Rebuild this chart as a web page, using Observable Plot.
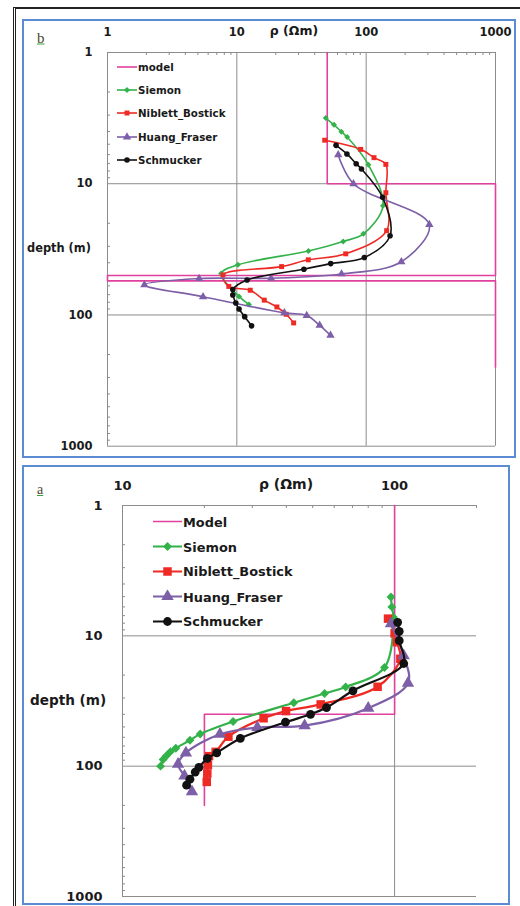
<!DOCTYPE html>
<html>
<head>
<meta charset="utf-8">
<script src="https://cdn.jsdelivr.net/npm/d3@7"></script>
<script src="https://cdn.jsdelivr.net/npm/@observablehq/plot@0.6"></script>
<style>
  html, body { margin: 0; padding: 0; background: #fff; }
  body { width: 520px; height: 906px; position: relative; overflow: hidden; font-family: "DejaVu Sans", sans-serif; }
  .abs { position: absolute; white-space: nowrap; }
  .lbl { font-weight: bold; color: #1a1a1a; transform: translateY(-50%); }
  .frame { position: absolute; box-sizing: border-box; }
  .leg { position: absolute; display: flex; align-items: center; transform: translateY(-50%); font-weight: bold; color: #1a1a1a; white-space: nowrap; }
  .leg svg { display: block; }
  .letter { position: absolute; font-family: "Liberation Serif", serif; color: #4a4a2a; text-decoration: underline; text-decoration-color: #3aa040; transform: translateY(-50%); }
</style>
</head>
<body>
<div class="frame" style="left:13px;top:7px;width:507px;height:899px;border-left:3px double #222;border-top:2px solid #222;"></div>
<div class="frame" style="left:22px;top:19px;width:494px;height:439px;border:2px solid #5b8bd3;"></div>
<div class="frame" style="left:22px;top:465px;width:488px;height:440px;border:2px solid #5b8bd3;"></div>
<div id="plotB" class="abs" style="left:0;top:0;"></div>
<div id="plotA" class="abs" style="left:0;top:460px;"></div>
<div id="overlay"></div>
<script>
// ---------------- DATA ----------------
const seriesNamesB = ["model", "Siemon", "Niblett_Bostick", "Huang_Fraser", "Schmucker"];
const seriesNamesA = ["Model", "Siemon", "Niblett_Bostick", "Huang_Fraser", "Schmucker"];
const seriesColors = ["#e0409e", "#33b24a", "#ee2a24", "#7d5fa8", "#111111"];
const seriesSymbols = [null, "diamond2", "square", "triangle", "circle"];

const depthTicks = [1, 10, 100, 1000];
const depthMinor = [2,3,4,5,6,7,8,9,20,30,40,50,60,70,80,90,200,300,400,500,600,700,800,900];

// Panel b
const bRhoTicks = [1, 10, 100, 1000];
const bRhoMinor = [2,3,4,5,6,7,8,9,20,30,40,50,60,70,80,90,200,300,400,500,600,700,800,900];
const bModelRho   = [50, 50, 1000, 1000, 1, 1, 1000, 1000];
const bModelDepth = [1, 10, 10, 50, 50, 55, 55, 250];
const bSiemonRho   = [48.7, 56.4, 64.3, 71.3, 104, 135, 95.3, 66.4, 35.8, 10.2, 7.56, 10.4, 12.4];
const bSiemonDepth = [3.16, 3.56, 4.01, 4.41, 7.16, 14.7, 24.1, 27.5, 32.5, 41.5, 48.4, 72.2, 83.2];
const bNiblettRho   = [47.8, 90.7, 115, 142, 142, 144, 69.5, 35.7, 22.2, 7.82, 8.67, 12.7, 16.3, 20.4, 24.1, 27.5];
const bNiblettDepth = [4.66, 5.47, 6.33, 7.12, 11.7, 22.8, 34.2, 38.0, 42.8, 49.5, 60.6, 64.8, 77.1, 86.9, 98.8, 115];
const bHuangRho   = [60.8, 79.8, 308, 187, 64.5, 18.4, 5.11, 1.93, 5.48, 23.3, 34.7, 43.7, 53.0];
const bHuangDepth = [6.03, 10, 20.5, 39.3, 48.7, 52.5, 52.8, 59.0, 72.6, 96.4, 101, 120, 143];
const bSchmuckerRho   = [58.5, 71.0, 83.7, 92.0, 134, 153, 96.8, 53.2, 33.0, 12.0, 9.31, 9.31, 9.82, 10.4, 11.5, 13.0];
const bSchmuckerDepth = [5.10, 5.93, 7.04, 7.72, 12.7, 24.9, 36.5, 40.6, 44.8, 54.2, 64.1, 70.4, 81.0, 90.0, 103, 121];

// Panel a
const aRhoTicks = [10, 100];
const aRhoMinor = [20,30,40,50,60,70,80,90,200];
const aModelRho   = [100, 100, 20, 20];
const aModelDepth = [1, 40, 40, 200];
const aSiemonRho   = [97.0, 97.7, 99.1, 91.8, 66.1, 55.3, 42.6, 25.5, 19.3, 17.7, 15.7, 15.0, 14.5, 14.1, 13.8];
const aSiemonDepth = [5.04, 6.0, 7.21, 17.5, 24.7, 27.7, 32.6, 45.4, 56.6, 63.2, 72.8, 77.4, 83.1, 88.9, 100];
const aNiblettRho   = [94.6, 100, 102, 105, 86.6, 53.5, 39.9, 33.0, 24.5, 22.0, 20.8, 20.6, 20.5, 20.4];
const aNiblettDepth = [7.38, 9.57, 11.2, 15.0, 24.6, 33.6, 37.8, 42.9, 59.4, 77.7, 83.8, 98.3, 114, 132];
const aHuangRho   = [97.0, 108, 112, 80.0, 46.7, 31.3, 22.8, 17.1, 16.0, 16.9, 18.0];
const aHuangDepth = [8.07, 14.2, 23.1, 35.9, 48.9, 50.5, 56.9, 79.1, 96.6, 119, 157];
const aSchmuckerRho   = [102.6, 104, 104, 108, 70.3, 56.2, 49.1, 39.7, 27.1, 22.2, 20.5, 19.1, 18.5, 17.7, 17.2];
const aSchmuckerDepth = [7.88, 9.24, 10.9, 16.3, 26.4, 35.5, 40.0, 46.0, 61.3, 79.1, 87.3, 102, 111, 126, 140];

// ---------------- BUILD ----------------
const zip = (rho, depth) => rho.map((r, i) => ({rho: r, depth: depth[i]}));

function makePanel(cfg) {
  const frameW = cfg.width - cfg.ml - cfg.mr;
  const frameH = cfg.height - cfg.mt - cfg.mb;
  const grid = "#8c8c8c";
  const marks = [
    Plot.ruleX(cfg.xTicks, {stroke: grid, strokeWidth: 1}),
    Plot.ruleY(depthTicks, {stroke: grid, strokeWidth: 1}),
    Plot.tickX(cfg.xMinor, {x: d => d, stroke: grid, insetBottom: frameH - 3}),
    Plot.tickY(depthMinor, {y: d => d, stroke: grid, insetRight: frameW - 3}),
    Plot.axisX({anchor: "top", ticks: cfg.xTicks, tickSize: 0, tickPadding: cfg.padX, tickFormat: d => String(d), label: null, fill: "#1a1a1a"}),
    Plot.axisY({anchor: "left", ticks: depthTicks, tickSize: 0, tickPadding: cfg.padY, tickFormat: d => String(d), label: null, fill: "#1a1a1a"}),
    Plot.line(zip(cfg.model[0], cfg.model[1]), {x: "rho", y: "depth", stroke: seriesColors[0], strokeWidth: cfg.modelW})
  ];
  cfg.series.forEach((s, k) => {
    const i = k + 1;
    const data = zip(s[0], s[1]);
    marks.push(Plot.line(data, {x: "rho", y: "depth", stroke: seriesColors[i], strokeWidth: cfg.lw, curve: "catmull-rom"}));
    marks.push(Plot.dot(data, {x: "rho", y: "depth", symbol: seriesSymbols[i], fill: seriesColors[i], stroke: "none", r: cfg.r[i]}));
  });
  return Plot.plot({
    width: cfg.width, height: cfg.height,
    marginTop: cfg.mt, marginBottom: cfg.mb, marginLeft: cfg.ml, marginRight: cfg.mr,
    x: {type: "log", domain: cfg.xDomain, label: null},
    y: {type: "log", domain: [1, 1000], reverse: true, label: null},
    style: {background: "transparent", fontFamily: "DejaVu Sans, sans-serif", fontSize: cfg.fontSize + "px", fontWeight: "bold", overflow: "visible"},
    marks
  });
}

const plotB = makePanel({
  width: 520, height: 460, mt: 52, mb: 14.3, ml: 107, mr: 25,
  xDomain: [1, 1000], xTicks: bRhoTicks, xMinor: bRhoMinor,
  padX: 17, padY: 15, fontSize: 11.5, lw: 1.6, modelW: 1.6,
  r: [0, 2.7, 2.8, 3.1, 2.8],
  model: [bModelRho, bModelDepth],
  series: [[bSiemonRho, bSiemonDepth], [bNiblettRho, bNiblettDepth], [bHuangRho, bHuangDepth], [bSchmuckerRho, bSchmuckerDepth]]
});
document.getElementById("plotB").appendChild(plotB);

const plotA = makePanel({
  width: 520, height: 446, mt: 45, mb: 10, ml: 122, mr: 44,
  xDomain: [10, 200], xTicks: aRhoTicks, xMinor: aRhoMinor,
  padX: 16, padY: 20, fontSize: 13, lw: 2.2, modelW: 1.6,
  r: [0, 4.0, 4.8, 4.6, 4.4],
  model: [aModelRho, aModelDepth],
  series: [[aSiemonRho, aSiemonDepth], [aNiblettRho, aNiblettDepth], [aHuangRho, aHuangDepth], [aSchmuckerRho, aSchmuckerDepth]]
});
document.getElementById("plotA").appendChild(plotA);

// ---------------- TEXT & LEGENDS ----------------
const overlay = document.getElementById("overlay");
function addText(cls, text, left, top, size, center) {
  const d = document.createElement("div");
  d.className = "abs " + cls;
  d.textContent = text;
  d.style.left = left + "px";
  d.style.top = top + "px";
  d.style.fontSize = size + "px";
  if (center) d.style.transform = "translate(-50%,-50%)";
  overlay.appendChild(d);
}
addText("lbl", "ρ (Ωm)", 294, 30, 12.5, true);
addText("lbl", "depth (m)", 27, 248, 11.4, false);
addText("letter", "b", 37, 38, 15, false);
addText("lbl", "ρ (Ωm)", 286, 484, 14, true);
addText("lbl", "depth (m)", 30, 700, 13.6, false);
addText("letter", "a", 37, 490, 14, false);

const symbolMap = {diamond2: d3.symbolDiamond2, square: d3.symbolSquare, triangle: d3.symbolTriangle, circle: d3.symbolCircle};
function addLegend(names, x0, lineLen, ys, fontSize, lw, rs) {
  names.forEach((name, i) => {
    const row = document.createElement("div");
    row.className = "leg";
    row.style.left = x0 + "px";
    row.style.top = ys[i] + "px";
    row.style.fontSize = fontSize + "px";
    const h = 14;
    const svg = d3.create("svg").attr("width", lineLen).attr("height", h);
    svg.append("line").attr("x1", 0).attr("x2", lineLen).attr("y1", h / 2).attr("y2", h / 2)
      .attr("stroke", seriesColors[i]).attr("stroke-width", i === 0 ? 1.6 : lw);
    if (seriesSymbols[i]) {
      const r = rs[i];
      svg.append("path").attr("d", d3.symbol(symbolMap[seriesSymbols[i]], Math.PI * r * r)())
        .attr("transform", `translate(${lineLen / 2},${h / 2})`).attr("fill", seriesColors[i]);
    }
    row.appendChild(svg.node());
    const t = document.createElement("span");
    t.textContent = name;
    t.style.marginLeft = "1px";
    row.appendChild(t);
    overlay.appendChild(row);
  });
}
addLegend(seriesNamesB, 117, 20, [67, 90, 113.3, 136.7, 160], 10.3, 1.6, [0, 2.7, 2.8, 3.1, 2.8]);
addLegend(seriesNamesA, 153, 29, [521.7, 546.7, 571, 596.7, 621], 12.9, 2.2, [0, 4.0, 4.8, 4.6, 4.4]);
</script>
</body>
</html>
